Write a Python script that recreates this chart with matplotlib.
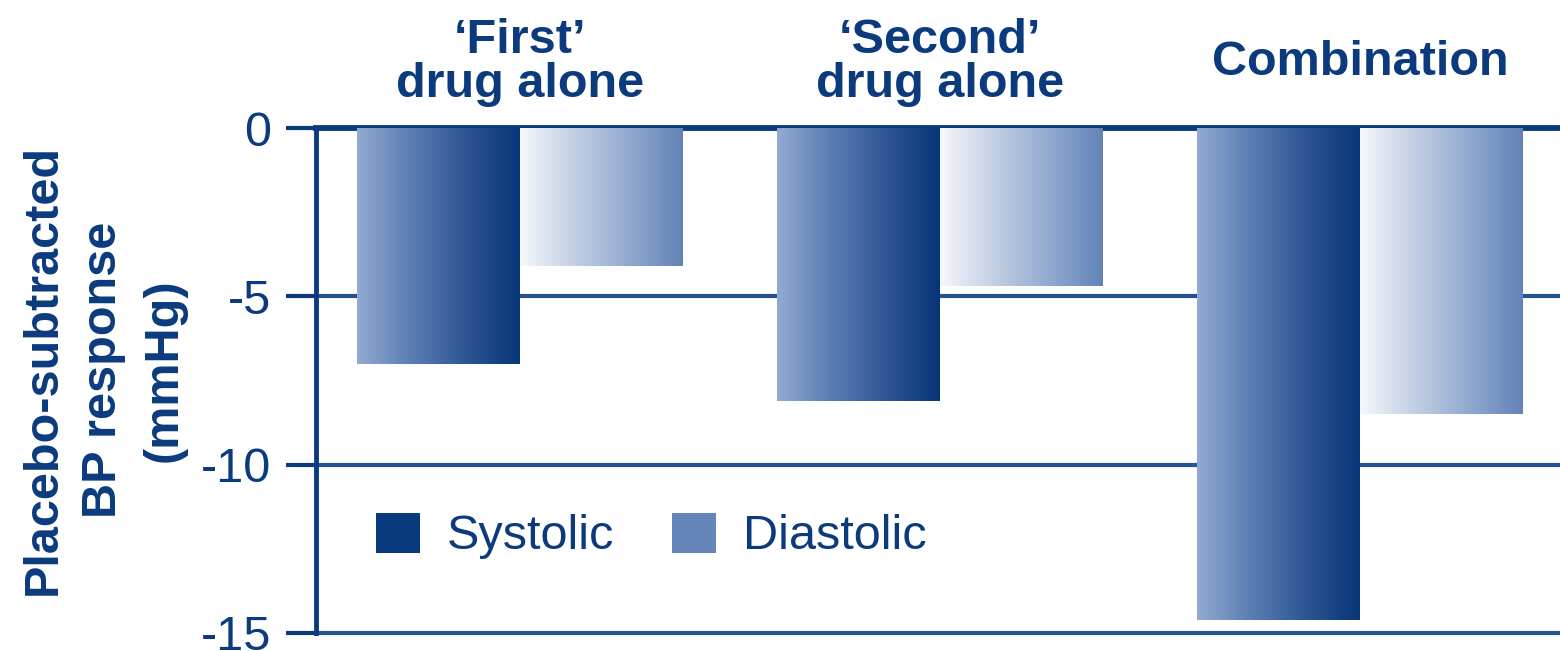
import numpy as np
import matplotlib.pyplot as plt
from matplotlib.colors import LinearSegmentedColormap
from matplotlib.patches import Patch

# Placebo-subtracted blood pressure response (mmHg)
groups = ['\u2018First\u2019\ndrug alone', '\u2018Second\u2019\ndrug alone', 'Combination']
systolic = [-7.0, -8.1, -14.6]
diastolic = [-4.1, -4.7, -8.5]
yticks = [0, -5, -10, -15]

navy = '#0b3b7d'
plt.rcParams['font.family'] = ['Liberation Sans', 'DejaVu Sans']

fig = plt.figure(figsize=(15.6, 6.51), dpi=100)
ax = fig.add_axes([316 / 1560, 18 / 651, 1 - 316 / 1560, 505 / 651])

sys_cmap = LinearSegmentedColormap.from_list('sys', ['#93abd2', '#5a7db3', '#2f5693', '#063578'])
dia_cmap = LinearSegmentedColormap.from_list('dia', ['#f6f8fb', '#c3cfe4', '#92aad0', '#6283b7'])
grad = np.linspace(0, 1, 256).reshape(1, -1)

x = np.arange(len(groups))
w = 0.388

# invisible bars give the rectangles; a horizontal gradient is painted into each
sys_bars = ax.bar(x - w / 2, systolic, w, color='none', zorder=3)
dia_bars = ax.bar(x + w / 2, diastolic, w, color='none', zorder=3)
for bars, cmap in [(sys_bars, sys_cmap), (dia_bars, dia_cmap)]:
    for r in bars:
        x0, y0 = r.get_x(), r.get_y()
        ax.imshow(grad, cmap=cmap, aspect='auto', zorder=2,
                  extent=[x0, x0 + r.get_width(), y0 + r.get_height(), y0],
                  interpolation='bilinear')

ax.set_xlim(-0.4857, 2.476)
ax.set_ylim(-15, 0)

# horizontal rules at each tick
for yv in yticks:
    ax.axhline(yv, color=navy if yv == 0 else '#27528f',
               lw=4.2 if yv == 0 else 3.0, zorder=1, clip_on=False)

ax.set_yticks(yticks)
ax.set_yticklabels([str(v) for v in yticks])
ax.set_xticks([])
ax.tick_params(axis='y', length=21.5, width=3, color=navy, pad=11,
               labelsize=35, labelcolor=navy)
for s in ['top', 'right', 'bottom']:
    ax.spines[s].set_visible(False)
ax.spines['left'].set_color(navy)
ax.spines['left'].set_linewidth(3.5)
ax.spines['left'].set_zorder(4)

ax.set_ylabel('Placebo-subtracted\nBP response\n(mmHg)', fontsize=35,
              fontweight='bold', color=navy, linespacing=1.45)
ax.yaxis.set_label_coords(-0.1037, 0.521)

trans = ax.get_xaxis_transform()
for xi, g in zip(x, groups):
    ax.text(xi, 1.13, g, transform=trans, ha='center', va='center',
            fontsize=35, fontweight='bold', color=navy, linespacing=0.98)

handles = [Patch(facecolor='#0a3a7e', edgecolor='none', label='Systolic'),
           Patch(facecolor='#6686ba', edgecolor='none', label='Diastolic')]
fig.legend(handles=handles, loc='center left', bbox_to_anchor=(376 / 1560, 1 - 536 / 651),
           ncol=2, frameon=False, fontsize=35, handlelength=0.9, handleheight=0.9,
           handletextpad=0.55, columnspacing=1.2, borderpad=0, borderaxespad=0,
           labelcolor=navy)

fig.savefig('out.png', dpi=100)
